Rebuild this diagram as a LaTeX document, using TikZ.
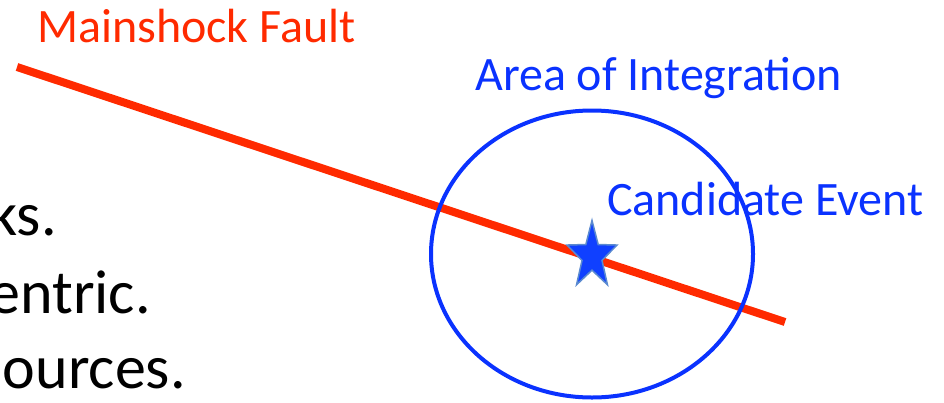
\documentclass[tikz,border=0pt]{standalone}
\usepackage{fontspec}
\setmainfont{Carlito}
\usetikzlibrary{shapes.geometric}
\definecolor{faultred}{HTML}{FF2A00}
\definecolor{areablue}{HTML}{0A32FF}
\definecolor{starblue}{HTML}{1040FF}
\definecolor{staredge}{HTML}{5A8AD0}
\tikzset{
  redlabel/.style={anchor=base west, inner sep=0pt, text=faultred, font=\fontsize{48}{52}\selectfont},
  bluelabel/.style={anchor=base west, inner sep=0pt, text=areablue, font=\fontsize{48}{52}\selectfont},
  bodytext/.style={anchor=base east, inner sep=0pt, text=black, font=\fontsize{62}{68}\selectfont},
  faultline/.style={draw=faultred, line width=8pt},
  areaellipse/.style={ellipse, draw=areablue, line width=4pt, minimum width=322pt, minimum height=287pt, inner sep=0pt},
  eventstar/.style={star, star points=5, star point ratio=2.5, fill=starblue, draw=staredge, line width=1.5pt, minimum size=71pt, inner sep=0pt, xscale=0.74, transform shape}
}
\begin{document}
\begin{tikzpicture}[x=1pt,y=-1pt]
\useasboundingbox (0,0) rectangle (944,402);
\clip (0,0) rectangle (944,402);
% labels
\node[redlabel] (faultlbl) at (37,42) {Mainshock Fault};
\node[bluelabel] (arealbl) at (475,90) {Area of Integration};
% body text (cut at left edge)
\node[bodytext] (txtA) at (57,235) {ks.};
\node[bodytext] (txtB) at (151,313) {entric.};
\node[bodytext] (txtC) at (186,388) {ources.};
% fault line
\coordinate (f1) at (17,67);
\coordinate (f2) at (785,322);
\draw[faultline] (f1) -- (f2);
% area ellipse
\node[areaellipse] (area) at (592,254) {};
% candidate label
\node[bluelabel] (eventlbl) at (607,215) {Candidate Event};
% star
\node[eventstar] (event) at (592,256) {};
\end{tikzpicture}
\end{document}
